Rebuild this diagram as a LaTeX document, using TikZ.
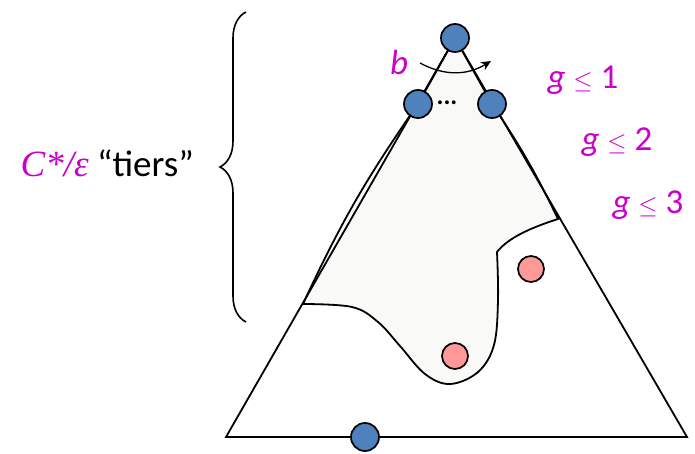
\documentclass[tikz,border=0pt]{standalone}
\usepackage{fontspec}
\setmainfont{Carlito}
\newfontfamily\tierserif{Liberation Serif}
\usetikzlibrary{arrows.meta,decorations.pathreplacing}

\definecolor{tiermag}{HTML}{CC00CC}
\definecolor{tierblue}{HTML}{4F81BD}
\definecolor{tierpink}{HTML}{FF9999}
\definecolor{tierfill}{HTML}{F9F9F7}

\begin{document}
\begin{tikzpicture}[
  x=1pt, y=-1pt,
  line width=1.8pt,
  font=\fontsize{35}{40}\selectfont,
  bluedot/.style={circle, draw=black, fill=tierblue, minimum size=28pt,
    inner sep=0pt, line width=1.7pt},
  pinkdot/.style={circle, draw=black, fill=tierpink, minimum size=26pt,
    inner sep=0pt, line width=1.7pt},
  maglabel/.style={text=tiermag, font=\fontsize{35}{40}\selectfont\itshape},
]
\useasboundingbox (0,0) rectangle (695,454);

% corners of the big triangle
\coordinate (apex) at (455,38);
\coordinate (botL) at (226,437);
\coordinate (botR) at (687,437);
\coordinate (tierL) at (418,104);
\coordinate (tierR) at (492,104);
\coordinate (regL) at (303,304);
\coordinate (regR) at (558,219);

% explored region
\draw[fill=tierfill]
  (regL) to[bend left=5] (tierL) -- (apex) -- (tierR) to[bend left=4] (regR)
  .. controls (530,228) and (508,238) .. (497,252)
  -- plot[smooth, tension=0.6] coordinates {(497,252) (498,300) (494,345)
    (478,372) (450,384) (425,374) (400,346) (378,322) (352,307) (303,304)}
  -- cycle;

\draw (apex) -- (botL) -- (botR) -- cycle;

% branching arrow
\coordinate (bS) at (420,63);
\coordinate (bE) at (491,61);
\draw[line width=1.3pt, -{Stealth[length=10pt,width=9pt]}] (bS) to[bend right=30] (bE);
\node[maglabel] (blab) at (399,62) {b};

% points
\node[bluedot] (top) at (apex) {};
\node[bluedot] (midL) at (tierL) {};
\node[bluedot] (midR) at (tierR) {};
\node[bluedot] (base) at (365,437) {};
\node[pinkdot] (goalA) at (455,356) {};
\node[pinkdot] (goalB) at (531,269) {};
\node[font=\fontsize{26}{28}\selectfont\bfseries] (dots) at (447,103) {...};

% depth bounds
\node[text=tiermag] (g1) at (583,80) {\textit{g} $\le$ 1};
\node[text=tiermag] (g2) at (617,142) {\textit{g} $\le$ 2};
\node[text=tiermag] (g3) at (648,205) {\textit{g} $\le$ 3};

% tiers brace
\draw[line width=1.6pt, decorate, decoration={brace, amplitude=26pt}]
  (246,322) -- (246,12);
\node[anchor=east, font=\fontsize{37}{42}\selectfont] (tiers) at (198,163)
  {{\tierserif\itshape\color{tiermag}C*/ε} “tiers”};

\end{tikzpicture}
\end{document}
